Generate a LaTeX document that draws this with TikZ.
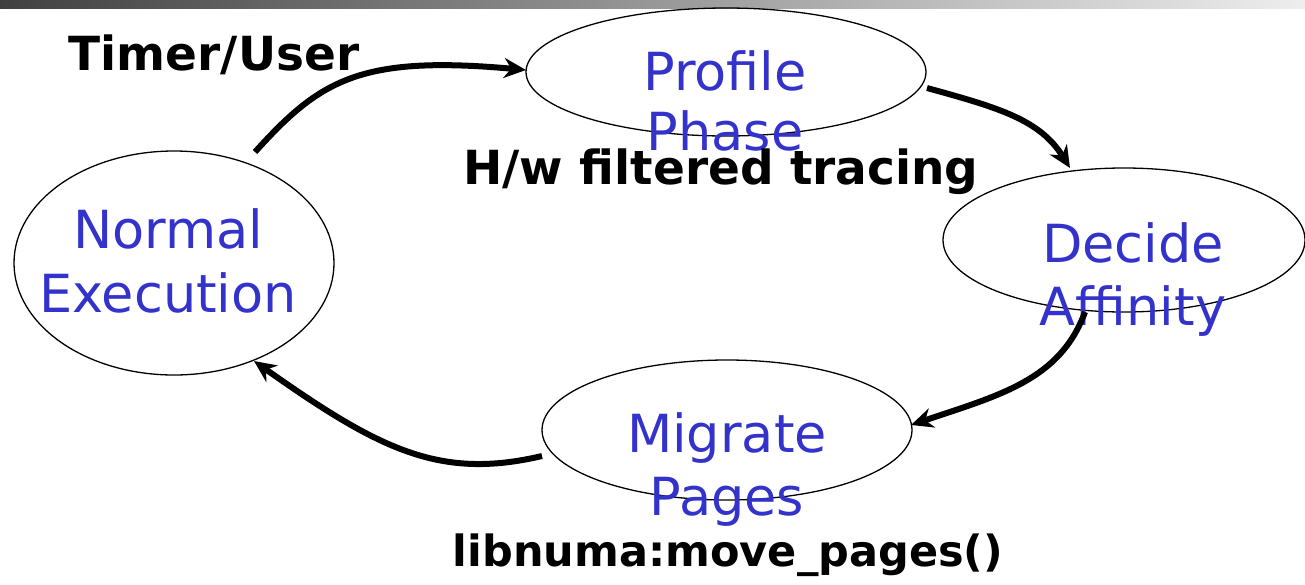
\documentclass[tikz,border=0pt]{standalone}
\usepackage{fontspec}
\setmainfont{DejaVu Sans}
\usetikzlibrary{arrows.meta}
\definecolor{stateblue}{RGB}{51,51,204}
\definecolor{bardark}{RGB}{64,64,64}
\definecolor{barlight}{RGB}{238,238,238}
\tikzset{
  statetext/.style={text=stateblue, font=\fontsize{52.5}{64}\selectfont, align=center, anchor=base, inner sep=0pt},
  edgelabel/.style={text=black, font=\fontsize{47}{56}\selectfont\bfseries, anchor=base, inner sep=0pt},
  flow/.style={line width=6pt, -{Stealth[length=22pt, width=20pt]}},
  outline/.style={line width=1.3pt}
}
\begin{document}
\begin{tikzpicture}[x=1pt, y=-1pt]
\useasboundingbox (0,0) rectangle (1305,584);
\shade[left color=bardark, right color=barlight] (0,0) rectangle (1305,8);
% ellipses
\draw[outline] (174,263) ellipse [x radius=160, y radius=112];
\draw[outline] (726,72) ellipse [x radius=200, y radius=64];
\draw[outline] (1124,240) ellipse [x radius=181, y radius=72];
\draw[outline] (727,430) ellipse [x radius=185, y radius=70];
% state texts
\node[statetext] (tne1) at (168,248) {Normal};
\node[statetext] (tne2) at (168,312) {Execution};
\node[statetext] (tpp1) at (725,90) {Profile};
\node[statetext] (tpp2) at (725,150) {Phase};
\node[statetext] (tda1) at (1133,262) {Decide};
\node[statetext] (tda2) at (1133,325) {Affinity};
\node[statetext] (tmp1) at (727,452) {Migrate};
\node[statetext] (tmp2) at (727,515) {Pages};
% labels
\node[edgelabel] (l1) at (214,70) {Timer/User};
\node[edgelabel] (l2) at (721,184) {H/w filtered tracing};
\node[edgelabel, font=\fontsize{43}{52}\selectfont\bfseries] (l3) at (728,566) {libnuma:move\_pages()};
% connectors
\coordinate (a1s) at (255,152);
\coordinate (a1e) at (526,70);
\coordinate (a2s) at (927,88);
\coordinate (a2e) at (1070,168);
\coordinate (a3s) at (1085,312);
\coordinate (a3e) at (911,425);
\coordinate (a4s) at (542,456);
\coordinate (a4e) at (254,361);
\draw[flow] (a1s) .. controls (320,80) and (360,55) .. (a1e);
\draw[flow] (a2s) .. controls (1000,108) and (1040,120) .. (a2e);
\draw[flow] (a3s) .. controls (1060,380) and (1000,395) .. (a3e);
\draw[flow] (a4s) .. controls (440,480) and (380,450) .. (a4e);
\end{tikzpicture}
\end{document}
